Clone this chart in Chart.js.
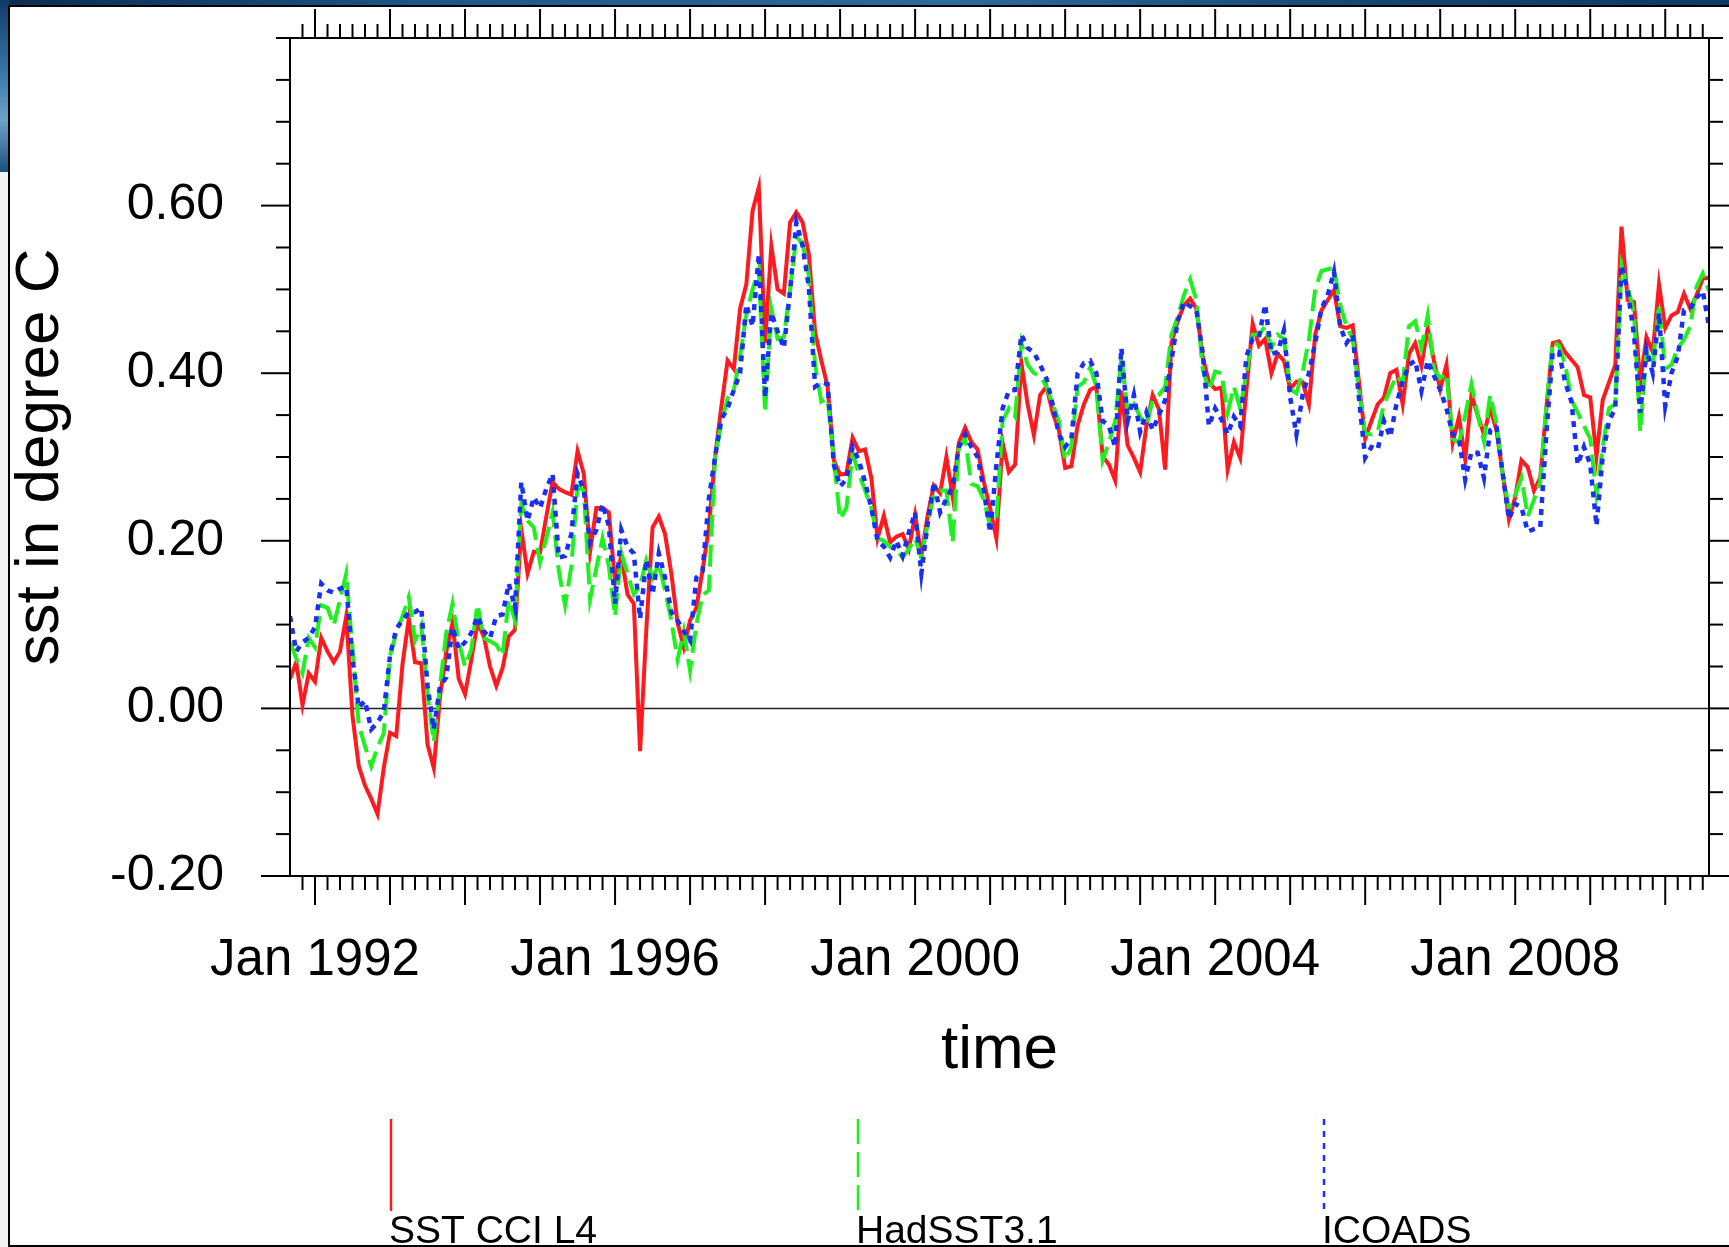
<!DOCTYPE html>
<html>
<head>
<meta charset="utf-8">
<title>SST anomaly comparison</title>
<script src="https://cdn.jsdelivr.net/npm/chart.js@4.4.1/dist/chart.umd.min.js"></script>
<style>
  html, body { margin: 0; padding: 0; }
  body {
    width: 1729px; height: 1247px; overflow: hidden; position: relative;
    background: #f3f3f3;
  }
  .sea { position: absolute; left: 0; top: 0; }
  .sea.top { width: 1729px; height: 8px; background: linear-gradient(90deg, #0b2c50, #1b578a 25%, #2b6c9e 55%, #134571 80%, #0d3a63); }
  .sea.side { width: 10px; height: 172px; background: linear-gradient(180deg, #0f3a66, #3b7bad 45%, #6fa2c8 70%, #1c4f80); }
  .panel {
    position: absolute; left: 8px; top: 5px; width: 1740px; height: 1242px;
    box-sizing: border-box; background: #fff; border: 2px solid #000;
  }
  #wrap { position: absolute; left: 0; top: 0; width: 1729px; height: 1247px; }
</style>
</head>
<body>
<div class="sea top"></div>
<div class="sea side"></div>
<div class="panel"></div>
<div id="wrap"><canvas id="sst"></canvas></div>
<script>
// monthly means, Sep 1991 .. Aug 2010 (one row per calendar year)
const sstCci = [
  0.035, 0.055, 0.004, 0.042,
  0.032, 0.084, 0.068, 0.055, 0.068, 0.110, -0.009, -0.069, -0.092, -0.108, -0.126, -0.071,
  -0.029, -0.033, 0.053, 0.107, 0.055, 0.054, -0.043, -0.071, 0.014, 0.068, 0.102, 0.035,
  0.017, 0.058, 0.102, 0.086, 0.050, 0.027, 0.048, 0.086, 0.094, 0.214, 0.161, 0.187,
  0.186, 0.229, 0.270, 0.262, 0.258, 0.255, 0.307, 0.280, 0.187, 0.239, 0.239, 0.234,
  0.151, 0.182, 0.136, 0.125, -0.051, 0.094, 0.216, 0.229, 0.208, 0.161, 0.102, 0.073,
  0.105, 0.120, 0.165, 0.215, 0.300, 0.360, 0.415, 0.405, 0.477, 0.506, 0.594, 0.622,
  0.436, 0.552, 0.500, 0.495, 0.580, 0.592, 0.580, 0.542, 0.449, 0.415, 0.384, 0.296,
  0.279, 0.280, 0.323, 0.307, 0.309, 0.275, 0.203, 0.230, 0.198, 0.205, 0.208, 0.190,
  0.231, 0.182, 0.230, 0.266, 0.257, 0.300, 0.253, 0.317, 0.335, 0.318, 0.309, 0.270,
  0.239, 0.203, 0.317, 0.282, 0.291, 0.412, 0.363, 0.326, 0.374, 0.384, 0.353, 0.332,
  0.287, 0.289, 0.338, 0.363, 0.380, 0.384, 0.301, 0.291, 0.272, 0.379, 0.314, 0.299,
  0.282, 0.337, 0.374, 0.357, 0.285, 0.436, 0.462, 0.481, 0.489, 0.477, 0.420, 0.389,
  0.381, 0.383, 0.285, 0.318, 0.299, 0.380, 0.459, 0.433, 0.441, 0.400, 0.423, 0.415,
  0.381, 0.390, 0.389, 0.363, 0.446, 0.475, 0.487, 0.499, 0.456, 0.454, 0.457, 0.390,
  0.322, 0.343, 0.363, 0.371, 0.400, 0.404, 0.363, 0.423, 0.436, 0.409, 0.454, 0.415,
  0.381, 0.410, 0.317, 0.348, 0.297, 0.374, 0.350, 0.327, 0.358, 0.332, 0.280, 0.226,
  0.252, 0.296, 0.288, 0.260, 0.275, 0.360, 0.436, 0.438, 0.425, 0.416, 0.407, 0.374,
  0.371, 0.301, 0.368, 0.389, 0.410, 0.575, 0.487, 0.485, 0.389, 0.443, 0.425, 0.506,
  0.454, 0.469, 0.473, 0.495, 0.477, 0.493, 0.513, 0.514
];

const hadSst = [
  0.079, 0.060, 0.042, 0.084,
  0.073, 0.123, 0.120, 0.099, 0.130, 0.161, 0.070, -0.020, -0.045, -0.069, -0.046, -0.030,
  0.063, 0.090, 0.110, 0.133, 0.081, 0.099, 0.017, -0.040, 0.027, 0.090, 0.125, 0.079,
  0.050, 0.070, 0.124, 0.084, 0.080, 0.076, 0.063, 0.130, 0.105, 0.244, 0.224, 0.216,
  0.174, 0.203, 0.234, 0.164, 0.123, 0.169, 0.265, 0.260, 0.130, 0.167, 0.203, 0.170,
  0.110, 0.185, 0.161, 0.136, 0.146, 0.177, 0.156, 0.172, 0.141, 0.105, 0.058, 0.092,
  0.045, 0.100, 0.135, 0.141, 0.300, 0.340, 0.370, 0.380, 0.420, 0.470, 0.500, 0.524,
  0.353, 0.477, 0.441, 0.443, 0.500, 0.563, 0.555, 0.516, 0.410, 0.366, 0.370, 0.296,
  0.226, 0.239, 0.304, 0.280, 0.260, 0.239, 0.203, 0.200, 0.193, 0.190, 0.180, 0.190,
  0.203, 0.180, 0.220, 0.255, 0.260, 0.260, 0.198, 0.312, 0.322, 0.268, 0.265, 0.249,
  0.218, 0.224, 0.343, 0.358, 0.348, 0.436, 0.410, 0.400, 0.397, 0.384, 0.363, 0.343,
  0.296, 0.312, 0.384, 0.389, 0.407, 0.384, 0.296, 0.317, 0.343, 0.420, 0.353, 0.363,
  0.348, 0.337, 0.368, 0.374, 0.384, 0.446, 0.467, 0.493, 0.512, 0.487, 0.405, 0.379,
  0.402, 0.400, 0.353, 0.384, 0.358, 0.400, 0.446, 0.446, 0.456, 0.430, 0.446, 0.441,
  0.381, 0.376, 0.402, 0.440, 0.500, 0.522, 0.524, 0.526, 0.482, 0.456, 0.441, 0.380,
  0.327, 0.327, 0.330, 0.363, 0.380, 0.397, 0.389, 0.456, 0.462, 0.430, 0.469, 0.405,
  0.394, 0.400, 0.322, 0.317, 0.350, 0.387, 0.350, 0.319, 0.374, 0.340, 0.280, 0.239,
  0.255, 0.275, 0.229, 0.249, 0.270, 0.360, 0.438, 0.433, 0.410, 0.368, 0.353, 0.337,
  0.322, 0.255, 0.312, 0.358, 0.363, 0.529, 0.503, 0.472, 0.330, 0.425, 0.410, 0.482,
  0.405, 0.410, 0.430, 0.440, 0.456, 0.503, 0.519, 0.498
];

const icoads = [
  0.110, 0.068, 0.079, 0.084,
  0.097, 0.149, 0.141, 0.138, 0.143, 0.145, 0.060, 0.001, 0.009, -0.025, -0.017, -0.004,
  0.063, 0.095, 0.105, 0.115, 0.115, 0.120, 0.027, -0.025, 0.027, 0.037, 0.097, 0.071,
  0.079, 0.090, 0.110, 0.092, 0.084, 0.110, 0.112, 0.149, 0.120, 0.270, 0.224, 0.252,
  0.239, 0.262, 0.280, 0.180, 0.182, 0.208, 0.280, 0.260, 0.198, 0.213, 0.244, 0.218,
  0.125, 0.213, 0.193, 0.185, 0.107, 0.177, 0.136, 0.185, 0.156, 0.115, 0.105, 0.092,
  0.081, 0.156, 0.164, 0.250, 0.300, 0.345, 0.358, 0.380, 0.400, 0.482, 0.456, 0.542,
  0.371, 0.472, 0.450, 0.430, 0.498, 0.580, 0.552, 0.503, 0.384, 0.389, 0.387, 0.291,
  0.265, 0.273, 0.312, 0.296, 0.270, 0.239, 0.200, 0.193, 0.180, 0.200, 0.182, 0.210,
  0.234, 0.161, 0.220, 0.270, 0.234, 0.250, 0.265, 0.312, 0.327, 0.312, 0.300, 0.260,
  0.210, 0.290, 0.358, 0.379, 0.380, 0.446, 0.430, 0.425, 0.410, 0.394, 0.363, 0.327,
  0.312, 0.322, 0.400, 0.412, 0.415, 0.400, 0.343, 0.337, 0.312, 0.430, 0.343, 0.374,
  0.330, 0.353, 0.332, 0.350, 0.368, 0.415, 0.462, 0.485, 0.480, 0.475, 0.425, 0.337,
  0.358, 0.345, 0.327, 0.348, 0.337, 0.420, 0.441, 0.443, 0.482, 0.423, 0.425, 0.451,
  0.371, 0.327, 0.374, 0.400, 0.436, 0.477, 0.493, 0.521, 0.456, 0.436, 0.446, 0.370,
  0.299, 0.312, 0.309, 0.343, 0.324, 0.363, 0.390, 0.410, 0.415, 0.379, 0.415, 0.397,
  0.380, 0.358, 0.327, 0.322, 0.273, 0.306, 0.305, 0.275, 0.332, 0.337, 0.280, 0.226,
  0.244, 0.240, 0.211, 0.214, 0.216, 0.330, 0.425, 0.425, 0.389, 0.366, 0.291, 0.312,
  0.291, 0.218, 0.301, 0.343, 0.358, 0.529, 0.498, 0.446, 0.353, 0.428, 0.400, 0.472,
  0.361, 0.400, 0.420, 0.475, 0.477, 0.490, 0.498, 0.456
];

// x is months since Sep 1991
const months = sstCci.map((_, i) => i);
const labelMonths = [4, 52, 100, 148, 196];
const xTickLabels = ['Jan 1992', 'Jan 1996', 'Jan 2000', 'Jan 2004', 'Jan 2008'];
const yTickValues = [-0.2, 0, 0.2, 0.4, 0.6];
const yTickLabels = ['-0.20', '0.00', '0.20', '0.40', '0.60'];

const FONT = '"Liberation Sans", Arial, Helvetica, sans-serif';

function seg(ctx, x1, y1, x2, y2) {
  ctx.beginPath();
  ctx.moveTo(x1, y1);
  ctx.lineTo(x2, y2);
  ctx.stroke();
}

// zero reference line under the curves
const refLine = {
  id: 'refLine',
  beforeDatasetsDraw(chart) {
    const { ctx, chartArea: a, scales: { y } } = chart;
    const py = y.getPixelForValue(0);
    ctx.save();
    ctx.strokeStyle = '#222';
    ctx.lineWidth = 1.5;
    seg(ctx, a.left, py, a.right, py);
    ctx.restore();
  }
};

// box with outward ticks on all four sides
const frame = {
  id: 'frame',
  afterDatasetsDraw(chart) {
    const { ctx, chartArea: a, scales: { x, y } } = chart;
    ctx.save();
    ctx.strokeStyle = '#000';
    ctx.lineWidth = 2;
    ctx.strokeRect(a.left, a.top, a.right - a.left, a.bottom - a.top);

    // every second month, long tick each January
    for (let m = 2; m < months.length; m += 2) {
      const px = x.getPixelForValue(m);
      const len = (m - 4) % 12 === 0 ? 29 : 14;
      seg(ctx, px, a.bottom, px, a.bottom + len);
      seg(ctx, px, a.top, px, a.top - len);
    }
    // every 0.05, long tick every 0.2
    for (let i = 0; i <= 20; i++) {
      const py = y.getPixelForValue(-0.2 + i * 0.05);
      const len = (i % 4 === 0 && i < 20) ? 29 : 14;
      seg(ctx, a.left - len, py, a.left, py);
      seg(ctx, a.right, py, a.right + len, py);
    }
    ctx.restore();
  }
};

// legend: a vertical line sample standing on each label
const legendX = [391, 858, 1324];
const stackLegend = {
  id: 'stackLegend',
  afterDraw(chart) {
    const { ctx } = chart;
    ctx.save();
    chart.data.datasets.forEach((ds, i) => {
      const lx = legendX[i];
      ctx.strokeStyle = ds.borderColor;
      ctx.lineWidth = 2.5;
      ctx.setLineDash(ds.legendDash);
      seg(ctx, lx, 1119, lx, 1211);
      ctx.setLineDash([]);
      ctx.fillStyle = '#000';
      ctx.font = '39px ' + FONT;
      ctx.textAlign = 'left';
      ctx.textBaseline = 'alphabetic';
      ctx.fillText(ds.label, lx - 2, 1243);
    });
    ctx.restore();
  }
};

const ctx = document.getElementById('sst');

new Chart(ctx, {
  type: 'line',
  data: {
    labels: months,
    datasets: [{
      label: 'SST CCI L4',
      data: sstCci,
      borderColor: '#ff1a1f',
      borderWidth: 4,
      legendDash: [],
      order: 3
    }, {
      label: 'HadSST3.1',
      data: hadSst,
      borderColor: '#1ff01f',
      borderWidth: 4,
      borderDash: [22, 8],
      legendDash: [25, 8],
      order: 2
    }, {
      label: 'ICOADS',
      data: icoads,
      borderColor: '#1a2ff0',
      borderWidth: 4.5,
      borderDash: [6, 6],
      legendDash: [6, 6],
      order: 1
    }]
  },
  options: {
    responsive: true,
    maintainAspectRatio: false,
    animation: false,
    layout: { padding: { left: 0, right: 20, top: 38, bottom: 0 } },
    elements: {
      point: { radius: 0, hoverRadius: 0 },
      line: { tension: 0, fill: false }
    },
    plugins: {
      legend: { display: false },
      tooltip: { enabled: false }
    },
    scales: {
      x: {
        type: 'linear',
        min: 0,
        max: months.length - 1,
        afterFit: (s) => {
          s.height = 371;
          s.paddingLeft = 0;
          s.paddingRight = 0;
        },
        afterBuildTicks: (s) => { s.ticks = labelMonths.map(v => ({ value: v })); },
        grid: { display: false, drawTicks: false },
        border: { display: false },
        ticks: {
          padding: 54,
          autoSkip: false,
          maxRotation: 0,
          color: '#000',
          font: { family: FONT, size: 51 },
          callback: (value, index) => xTickLabels[index]
        },
        title: {
          display: true,
          text: 'time',
          color: '#000',
          font: { family: FONT, size: 62 },
          padding: { top: 0, bottom: 159 }
        }
      },
      y: {
        min: -0.2,
        max: 0.8,
        afterFit: (s) => {
          s.width = 290;
          s.paddingTop = 0;
          s.paddingBottom = 0;
        },
        afterBuildTicks: (s) => { s.ticks = yTickValues.map(v => ({ value: v })); },
        grid: { display: false, drawTicks: false },
        border: { display: false },
        ticks: {
          padding: 66,
          color: '#000',
          font: { family: FONT, size: 50 },
          callback: (value, index) => yTickLabels[index]
        },
        title: {
          display: true,
          text: 'sst in degree C',
          color: '#000',
          font: { family: FONT, size: 62 },
          padding: { top: 4, bottom: 0 }
        }
      }
    }
  },
  plugins: [refLine, frame, stackLegend]
});
</script>
</body>
</html>
